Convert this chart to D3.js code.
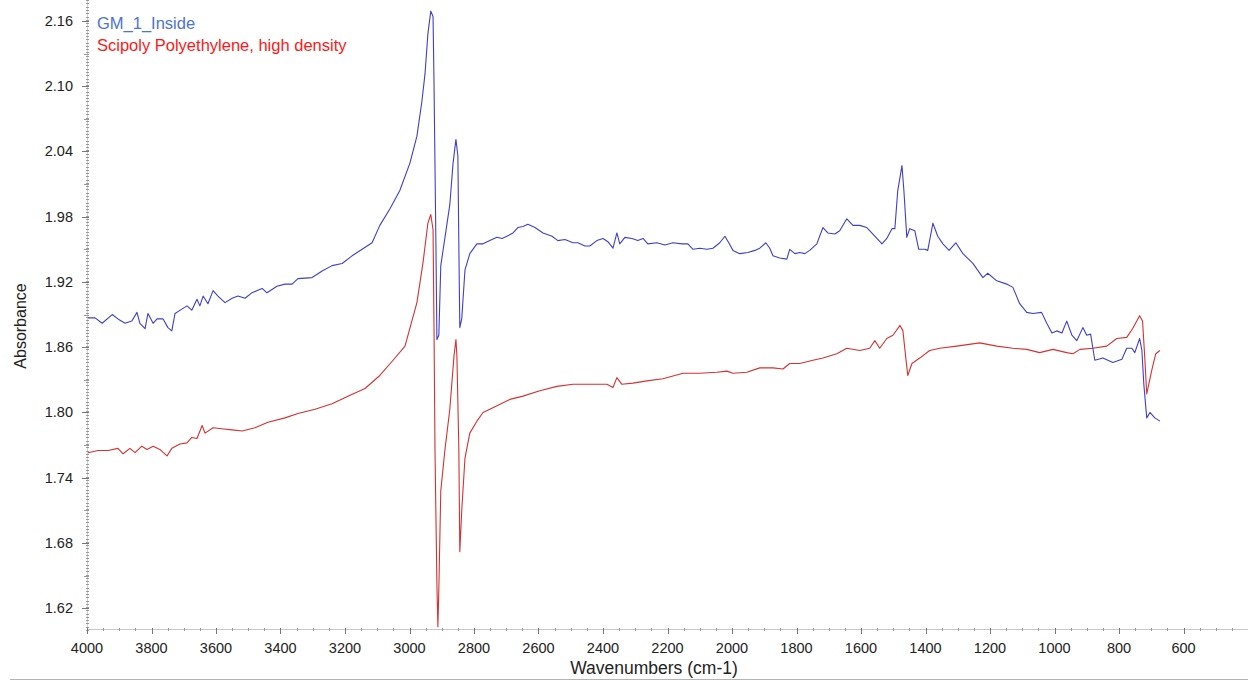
<!DOCTYPE html>
<meta charset="utf-8">
<title>FTIR Spectrum</title>
<style>
    body { margin: 0; background: #fff; }
    text { font-family: "Liberation Sans", Arial, sans-serif; }
</style>
<body>
</body>
<script src="https://d3js.org/d3.v7.min.js"></script>
<script>
    const width = 1248, height = 681;

    const seriesNames = ["GM_1_Inside", "Scipoly Polyethylene, high density"];
    const xTicks = [4000, 3800, 3600, 3400, 3200, 3000, 2800, 2600, 2400, 2200, 2000, 1800, 1600, 1400, 1200, 1000, 800, 600];
    const yTicks = [1.62, 1.68, 1.74, 1.80, 1.86, 1.92, 1.98, 2.04, 2.10, 2.16];

    // GM_1_Inside
    const gmWavenumbers = [3997, 3975, 3953, 3922, 3904, 3882, 3861, 3845, 3836, 3820, 3811, 3795, 3783, 3764, 3749, 3737, 3727, 3706, 3690, 3675, 3659, 3650, 3640, 3625, 3609, 3594, 3572, 3550, 3532, 3510, 3489, 3457, 3442, 3411, 3386, 3364, 3346, 3302, 3271, 3240, 3209, 3178, 3147, 3116, 3092, 3061, 3030, 2999, 2977, 2962, 2952, 2943, 2934, 2927, 2924, 2918, 2915, 2909, 2903, 2890, 2875, 2865, 2856, 2850, 2847, 2844, 2838, 2828, 2813, 2791, 2772, 2751, 2729, 2713, 2698, 2679, 2664, 2648, 2633, 2611, 2586, 2558, 2540, 2518, 2493, 2478, 2456, 2441, 2419, 2400, 2385, 2369, 2357, 2348, 2332, 2310, 2292, 2276, 2261, 2233, 2208, 2183, 2155, 2137, 2121, 2100, 2078, 2059, 2038, 2022, 2010, 1997, 1976, 1951, 1929, 1914, 1895, 1883, 1873, 1852, 1830, 1821, 1805, 1790, 1774, 1759, 1737, 1718, 1703, 1681, 1666, 1644, 1625, 1604, 1582, 1563, 1535, 1520, 1504, 1495, 1486, 1473, 1467, 1458, 1449, 1433, 1421, 1402, 1393, 1377, 1362, 1346, 1327, 1306, 1284, 1253, 1222, 1207, 1179, 1148, 1129, 1108, 1086, 1067, 1040, 1024, 1008, 993, 977, 962, 946, 931, 912, 900, 888, 881, 875, 850, 819, 791, 776, 760, 751, 736, 729, 723, 714, 704, 689, 673];
    const gmAbsorbance = [1.887, 1.887, 1.882, 1.890, 1.886, 1.882, 1.884, 1.892, 1.882, 1.877, 1.891, 1.882, 1.886, 1.886, 1.878, 1.875, 1.891, 1.895, 1.898, 1.894, 1.904, 1.898, 1.907, 1.900, 1.912, 1.907, 1.901, 1.905, 1.907, 1.905, 1.910, 1.914, 1.910, 1.916, 1.918, 1.918, 1.923, 1.924, 1.930, 1.935, 1.937, 1.944, 1.950, 1.956, 1.972, 1.987, 2.004, 2.029, 2.054, 2.085, 2.111, 2.148, 2.169, 2.164, 2.103, 1.953, 1.867, 1.871, 1.935, 1.961, 1.991, 2.029, 2.051, 2.036, 1.953, 1.878, 1.886, 1.931, 1.946, 1.955, 1.955, 1.958, 1.961, 1.960, 1.962, 1.965, 1.970, 1.971, 1.973, 1.970, 1.965, 1.962, 1.958, 1.959, 1.956, 1.956, 1.953, 1.953, 1.958, 1.960, 1.957, 1.951, 1.965, 1.955, 1.961, 1.960, 1.958, 1.960, 1.955, 1.956, 1.954, 1.956, 1.955, 1.955, 1.950, 1.951, 1.950, 1.951, 1.956, 1.962, 1.956, 1.949, 1.946, 1.947, 1.949, 1.951, 1.956, 1.951, 1.944, 1.942, 1.941, 1.950, 1.946, 1.947, 1.946, 1.949, 1.955, 1.970, 1.965, 1.964, 1.967, 1.978, 1.972, 1.972, 1.970, 1.964, 1.955, 1.960, 1.969, 1.969, 2.004, 2.027, 2.004, 1.961, 1.969, 1.967, 1.950, 1.950, 1.949, 1.974, 1.962, 1.955, 1.949, 1.956, 1.946, 1.937, 1.924, 1.928, 1.921, 1.918, 1.915, 1.900, 1.892, 1.891, 1.892, 1.882, 1.873, 1.875, 1.873, 1.884, 1.871, 1.866, 1.878, 1.871, 1.872, 1.859, 1.848, 1.850, 1.846, 1.849, 1.859, 1.859, 1.855, 1.868, 1.857, 1.826, 1.795, 1.800, 1.795, 1.792];

    // Scipoly Polyethylene, high density
    const hdpeWavenumbers = [3997, 3966, 3935, 3904, 3888, 3867, 3851, 3830, 3814, 3795, 3774, 3752, 3737, 3712, 3690, 3675, 3659, 3643, 3634, 3609, 3582, 3550, 3519, 3479, 3439, 3386, 3346, 3293, 3240, 3191, 3138, 3092, 3051, 3014, 2977, 2958, 2943, 2934, 2927, 2924, 2921, 2915, 2912, 2909, 2903, 2890, 2875, 2862, 2856, 2853, 2847, 2844, 2838, 2828, 2813, 2791, 2772, 2751, 2689, 2648, 2596, 2543, 2493, 2441, 2388, 2369, 2357, 2342, 2307, 2264, 2214, 2152, 2100, 2047, 2016, 1997, 1954, 1914, 1873, 1842, 1821, 1790, 1749, 1718, 1675, 1644, 1604, 1573, 1557, 1542, 1520, 1501, 1479, 1470, 1461, 1455, 1442, 1418, 1387, 1356, 1303, 1232, 1179, 1129, 1086, 1046, 1005, 962, 943, 921, 881, 838, 807, 776, 758, 736, 727, 720, 714, 699, 686, 673];
    const hdpeAbsorbance = [1.763, 1.765, 1.765, 1.767, 1.762, 1.767, 1.763, 1.769, 1.766, 1.769, 1.766, 1.760, 1.767, 1.771, 1.772, 1.777, 1.776, 1.788, 1.781, 1.786, 1.785, 1.784, 1.783, 1.786, 1.791, 1.795, 1.799, 1.803, 1.808, 1.815, 1.822, 1.834, 1.848, 1.861, 1.901, 1.938, 1.974, 1.982, 1.968, 1.878, 1.766, 1.642, 1.603, 1.638, 1.728, 1.766, 1.803, 1.852, 1.867, 1.852, 1.766, 1.672, 1.710, 1.758, 1.781, 1.792, 1.800, 1.803, 1.812, 1.815, 1.820, 1.824, 1.826, 1.826, 1.826, 1.823, 1.832, 1.826, 1.827, 1.829, 1.831, 1.836, 1.836, 1.837, 1.838, 1.836, 1.837, 1.841, 1.841, 1.840, 1.845, 1.845, 1.848, 1.850, 1.854, 1.859, 1.857, 1.859, 1.866, 1.859, 1.868, 1.871, 1.880, 1.875, 1.850, 1.834, 1.845, 1.850, 1.857, 1.859, 1.861, 1.864, 1.861, 1.859, 1.858, 1.855, 1.858, 1.855, 1.854, 1.858, 1.859, 1.861, 1.868, 1.869, 1.877, 1.889, 1.884, 1.850, 1.817, 1.838, 1.854, 1.857];

    const colors = {
        gmLine: "#3f3fcf", hdpeLine: "#d63131",
        gmText: "#4d73d6", hdpeText: "#ff1717"
    };

    const x = d3.scaleLinear().domain([4000, 400]).range([87, 1248]);
    const y = d3.scaleLinear().domain([1.60, 2.17]).range([630, 10]);

    const svg = d3.select("body").append("svg")
        .attr("width", width)
        .attr("height", height);

    // bottom frame line
    svg.append("line")
        .attr("x1", 10).attr("x2", width)
        .attr("y1", 679.5).attr("y2", 679.5)
        .attr("stroke", "#b5b5b5");

    // y axis: dense minor ticks look dotted
    const yAxisG = svg.append("g").attr("stroke", "#9a9a9a").attr("stroke-width", 1);
    yAxisG.append("line")
        .attr("x1", 87.5).attr("x2", 87.5)
        .attr("y1", 0).attr("y2", y(1.60))
        .attr("stroke", "#d0d0d0");
    yAxisG.selectAll("line.minor")
        .data(d3.range(0, 194).map(i => 1.60 + i * 0.003))
        .join("line")
        .attr("class", "minor")
        .attr("x1", 86).attr("x2", 89)
        .attr("y1", d => Math.round(y(d)) + 0.5)
        .attr("y2", d => Math.round(y(d)) + 0.5);
    yAxisG.selectAll("line.mid")
        .data(yTicks.map(d => d + 0.03).filter(d => y(d) > 0))
        .join("line")
        .attr("class", "mid")
        .attr("x1", 84).attr("x2", 89)
        .attr("y1", d => Math.round(y(d)) + 0.5)
        .attr("y2", d => Math.round(y(d)) + 0.5);
    yAxisG.selectAll("line.major")
        .data(yTicks)
        .join("line")
        .attr("class", "major")
        .attr("x1", 82).attr("x2", 89)
        .attr("stroke", "#777")
        .attr("y1", d => Math.round(y(d)) + 0.5)
        .attr("y2", d => Math.round(y(d)) + 0.5);

    svg.append("g").selectAll("text")
        .data(yTicks)
        .join("text")
        .attr("x", 73)
        .attr("y", d => y(d) + 5)
        .attr("text-anchor", "end")
        .attr("font-size", 14.5)
        .attr("fill", "#222")
        .text(d => d.toFixed(2));

    // x axis
    const xAxisG = svg.append("g").attr("stroke", "#9a9a9a");
    xAxisG.append("line")
        .attr("x1", 87).attr("x2", width)
        .attr("y1", 629.5).attr("y2", 629.5)
        .attr("stroke", "#c8c8c8");
    xAxisG.selectAll("line.minor")
        .data(d3.range(4000, 399, -50))
        .join("line")
        .attr("class", "minor")
        .attr("x1", d => Math.round(x(d)) + 0.5)
        .attr("x2", d => Math.round(x(d)) + 0.5)
        .attr("y1", 628).attr("y2", 631);
    xAxisG.selectAll("line.major")
        .data(d3.range(4000, 399, -200))
        .join("line")
        .attr("class", "major")
        .attr("stroke", "#777")
        .attr("x1", d => Math.round(x(d)) + 0.5)
        .attr("x2", d => Math.round(x(d)) + 0.5)
        .attr("y1", 628).attr("y2", 634);

    svg.append("g").selectAll("text")
        .data(xTicks)
        .join("text")
        .attr("x", d => x(d))
        .attr("y", 653)
        .attr("text-anchor", "middle")
        .attr("font-size", 14.5)
        .attr("fill", "#222")
        .text(d => d);

    // axis titles
    svg.append("text")
        .attr("x", 654).attr("y", 674)
        .attr("text-anchor", "middle")
        .attr("font-size", 17.5)
        .attr("fill", "#222")
        .text("Wavenumbers (cm-1)");

    svg.append("text")
        .attr("transform", "translate(26,326) rotate(-90)")
        .attr("text-anchor", "middle")
        .attr("font-size", 16)
        .attr("fill", "#222")
        .text("Absorbance");

    // spectra
    const line = d3.line()
        .x(d => x(d[0]))
        .y(d => y(d[1]));

    const gmData = d3.zip(gmWavenumbers, gmAbsorbance);
    const hdpeData = d3.zip(hdpeWavenumbers, hdpeAbsorbance);

    svg.append("path")
        .datum(hdpeData)
        .attr("fill", "none")
        .attr("stroke", colors.hdpeLine)
        .attr("stroke-width", 1.1)
        .attr("stroke-linejoin", "round")
        .attr("d", line);

    svg.append("path")
        .datum(gmData)
        .attr("fill", "none")
        .attr("stroke", colors.gmLine)
        .attr("stroke-width", 1.1)
        .attr("stroke-linejoin", "round")
        .attr("d", line);

    // legend
    svg.append("g").selectAll("text")
        .data(seriesNames)
        .join("text")
        .attr("x", 97)
        .attr("y", (d, i) => 29 + i * 22)
        .attr("font-size", 16.5)
        .attr("fill", (d, i) => i === 0 ? colors.gmText : colors.hdpeText)
        .text(d => d);
</script>
